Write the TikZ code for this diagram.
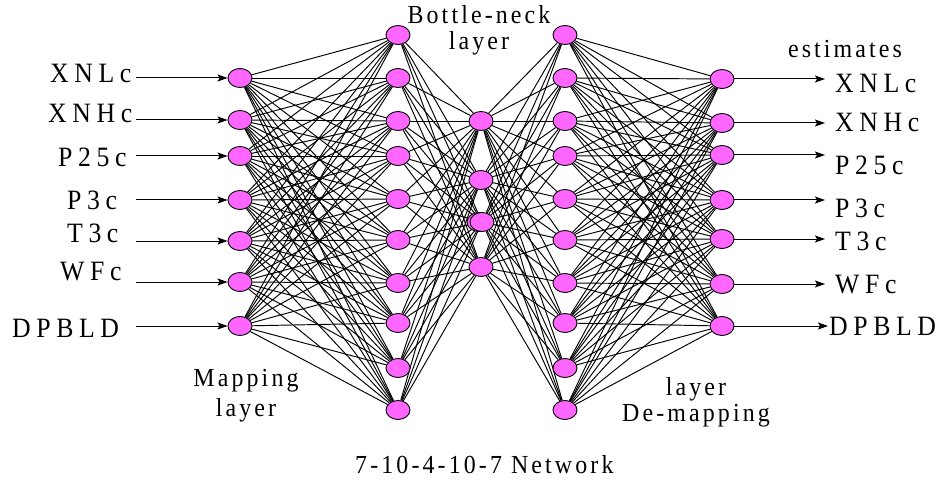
\documentclass[tikz,border=0pt]{standalone}
\usepackage{fontspec}
\setmainfont{Liberation Serif}
\usetikzlibrary{shapes.geometric,arrows.meta,backgrounds}
\newfontfamily\biglabelfont[FakeStretch=0.92,LetterSpace=20]{Liberation Serif}
\newfontfamily\smalllabelfont[FakeStretch=0.92,LetterSpace=12]{Liberation Serif}
\definecolor{neuronpink}{HTML}{FF66FF}
\tikzset{
  neuron/.style={ellipse, draw=black, fill=neuronpink, line width=0.9pt,
    minimum width=24pt, minimum height=19pt, inner sep=0pt},
  link/.style={line width=0.95pt, draw=black},
  signal/.style={line width=1pt, -{Stealth[length=10pt,width=7pt,inset=2pt]}},
  varname/.style={inner sep=0pt, anchor=base west,
    font=\fontsize{28}{30}\biglabelfont},
  caption/.style={inner sep=0pt, anchor=base,
    font=\fontsize{26}{28}\smalllabelfont},
}
\begin{document}
\begin{tikzpicture}[x=1pt,y=-1pt]
\useasboundingbox (0,0) rectangle (943,484);

% input layer (7)
\foreach \y [count=\i] in {78,120,156,200,241,282,326}
  \node[neuron] (a\i) at (240,\y) {};
% mapping layer (10)
\foreach \y [count=\i] in {35,78,121,156,199,240,283,323,368,410}
  \node[neuron] (b\i) at (398,\y) {};
% bottle-neck layer (4)
\node[neuron] (c1) at (481,121) {};
\node[neuron] (c2) at (481,180) {};
\node[neuron] (c3ghost) at (479,222) {};
\node[neuron] (c3) at (482,222) {};
\node[neuron] (c4) at (481,267) {};
% de-mapping layer (10)
\foreach \y [count=\i] in {35,78,121,156,199,240,283,323,368,410}
  \node[neuron] (d\i) at (565,\y) {};
% output layer (7)
\foreach \y [count=\i] in {79,123,155,200,239,284,326}
  \node[neuron] (e\i) at (722,\y) {};

% full connections between consecutive layers
\begin{scope}[on background layer]
  \foreach \i in {1,...,7}
    \foreach \j in {1,...,10}
      \draw[link] (a\i) -- (b\j);
  \foreach \i in {1,...,10}
    \foreach \j in {1,...,4}
      \draw[link] (b\i) -- (c\j);
  \foreach \i in {1,...,4}
    \foreach \j in {1,...,10}
      \draw[link] (c\i) -- (d\j);
  \foreach \i in {1,...,10}
    \foreach \j in {1,...,7}
      \draw[link] (d\i) -- (e\j);
\end{scope}

% input signals
\foreach \y [count=\i] in {78,120,156,200,241,282,326}
  \coordinate (in\i) at (136,\y);
\foreach \i in {1,...,7}
  \draw[signal] (in\i) -- (a\i);

% output signals
\foreach \y/\xe [count=\i] in {79/825,123/825,155/825,200/825,239/825,284/825,326/828}
  \coordinate (out\i) at (\xe,\y);
\foreach \i in {1,...,7}
  \draw[signal] (e\i) -- (out\i);

% input names
\node[varname] (inXNL)  at (50,83)  {XNLc};
\node[varname] (inXNH)  at (48,123) {XNHc};
\node[varname] (inP25)  at (58,167) {P25c};
\node[varname] (inP3)   at (67,209) {P3c};
\node[varname] (inT3)   at (67,242) {T3c};
\node[varname] (inWF)   at (60,280) {WFc};
\node[varname] (inDPB)  at (12,337) {DPBLD};

% output names
\node[varname] (outXNL) at (835,93)  {XNLc};
\node[varname] (outXNH) at (835,132) {XNHc};
\node[varname] (outP25) at (835,175) {P25c};
\node[varname] (outP3)  at (835,217) {P3c};
\node[varname] (outT3)  at (835,251) {T3c};
\node[varname] (outWF)  at (835,293) {WFc};
\node[varname] (outDPB) at (829,335) {DPBLD};

% captions
\node[caption] (bn1) at (479,24)  {Bottle-neck};
\node[caption] (bn2) at (479,50)  {layer};
\node[caption] (est) at (845,58)  {estimates};
\node[caption] (map1) at (246,386) {Mapping};
\node[caption] (map2) at (246,416) {layer};
\node[caption] (dem1) at (696,395) {layer};
\node[caption] (dem2) at (696,421) {De-mapping};
\node[caption, anchor=base west] (net) at (355,473) {7-10-4-10-7 Network};
\end{tikzpicture}
\end{document}
